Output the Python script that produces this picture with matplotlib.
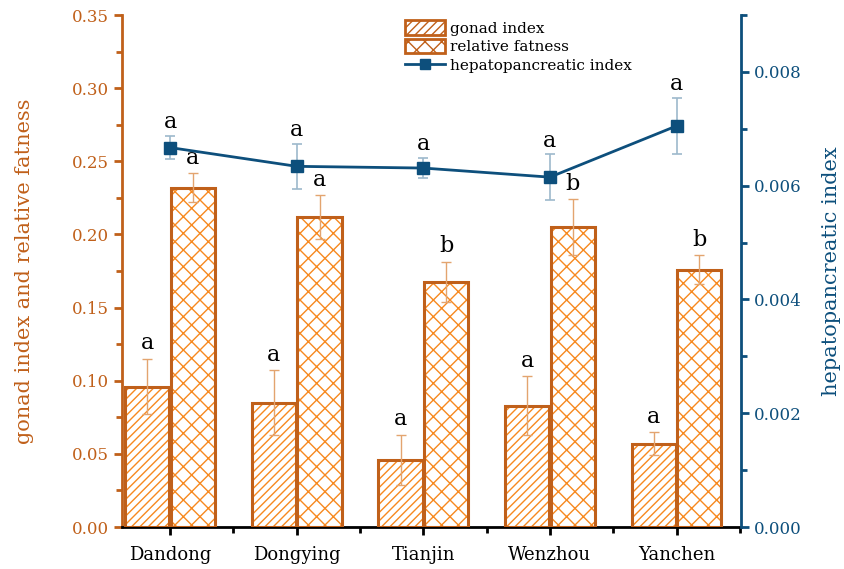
import numpy as np
import matplotlib
matplotlib.use('Agg')
import matplotlib.pyplot as plt
from matplotlib.ticker import MultipleLocator, FormatStrFormatter
from matplotlib.patches import Patch
from matplotlib.lines import Line2D

sites = ['Dandong', 'Dongying', 'Tianjin', 'Wenzhou', 'Yanchen']
gonad = [0.096, 0.085, 0.046, 0.083, 0.057]
gonad_err = [0.019, 0.022, 0.017, 0.020, 0.008]
fatness = [0.232, 0.212, 0.1675, 0.205, 0.176]
fatness_err = [0.010, 0.015, 0.014, 0.019, 0.010]
hepato = [0.00667, 0.00634, 0.00631, 0.00615, 0.00705]
hepato_err = [0.00020, 0.00040, 0.00018, 0.00040, 0.00050]
gonad_sig = ['a', 'a', 'a', 'a', 'a']
fatness_sig = ['a', 'a', 'b', 'b', 'b']
hepato_sig = ['a', 'a', 'a', 'a', 'a']

edge_c = '#C0601A'
hatch_c = '#F7891F'
err_c = '#E3A46F'
blue = '#0D4F7C'
blue_err = '#9DB9CC'

plt.rcParams['hatch.linewidth'] = 1.0
plt.rcParams['font.family'] = 'DejaVu Serif'

fig = plt.figure(figsize=(8.45, 5.69), dpi=100)
ax = fig.add_axes([0.1444, 0.0738, 0.7326, 0.8998])
ax2 = ax.twinx()

x = np.arange(len(sites))
w = 0.35
off = 0.18

for vals, errs, sig, hatch, dx in [(gonad, gonad_err, gonad_sig, '////', -off),
                                    (fatness, fatness_err, fatness_sig, 'xx', off)]:
    xs = x + dx
    # hatch layer, then the outline drawn on top
    ax.bar(xs, vals, w, color='white', edgecolor=hatch_c, hatch=hatch, linewidth=0, zorder=2)
    ax.bar(xs, vals, w, color='none', edgecolor=edge_c, linewidth=2.2, zorder=3)
    ax.errorbar(xs, vals, yerr=errs, fmt='none', ecolor=err_c, elinewidth=1,
                capsize=3.5, capthick=1, zorder=4)
    for xi, v, e, s in zip(xs, vals, errs, sig):
        ax.text(xi, v + e + 0.003, s, ha='center', va='bottom', fontsize=16,
                color='black')

ax2.errorbar(x, hepato, yerr=hepato_err, fmt='none', ecolor=blue_err, elinewidth=1.2,
             capsize=3.5, capthick=1.2, zorder=4)
ax2.plot(x, hepato, color=blue, lw=2, marker='s', ms=8, zorder=5)
for xi, v, e, s in zip(x, hepato, hepato_err, hepato_sig):
    ax2.text(xi, v + e + 0.00005, s, ha='center', va='bottom', fontsize=16,
             color='black')

ax.set_xlim(-0.38, 4.51)
ax.set_ylim(0, 0.35)
ax2.set_ylim(0, 0.009)

ax.set_xticks(x)
ax.set_xticklabels(sites, fontsize=13)
ax.xaxis.set_minor_locator(MultipleLocator(0.5))
ax.yaxis.set_major_locator(MultipleLocator(0.05))
ax.yaxis.set_minor_locator(MultipleLocator(0.025))
ax.yaxis.set_major_formatter(FormatStrFormatter('%.2f'))
ax2.yaxis.set_major_locator(MultipleLocator(0.002))
ax2.yaxis.set_minor_locator(MultipleLocator(0.001))
ax2.yaxis.set_major_formatter(FormatStrFormatter('%.3f'))

ax.spines['top'].set_visible(False)
ax2.spines['top'].set_visible(False)
ax.spines['right'].set_visible(False)
ax2.spines['left'].set_visible(False)
ax2.spines['bottom'].set_visible(False)
ax.spines['left'].set_color(edge_c)
ax.spines['left'].set_linewidth(2)
ax.spines['bottom'].set_linewidth(2)
ax2.spines['right'].set_color(blue)
ax2.spines['right'].set_linewidth(2)

ax.tick_params(axis='y', which='both', colors=edge_c, width=2, labelsize=12)
ax.tick_params(axis='y', which='major', length=6)
ax.tick_params(axis='y', which='minor', length=4)
ax.tick_params(axis='x', which='major', length=6, width=2, pad=8)
ax.tick_params(axis='x', which='minor', length=4, width=2)
ax2.tick_params(axis='y', which='both', colors=blue, width=2, labelsize=12)
ax2.tick_params(axis='y', which='major', length=6)
ax2.tick_params(axis='y', which='minor', length=4)

ax.set_ylabel('gonad index and relative fatness', color=edge_c, fontsize=15)
ax2.set_ylabel('hepatopancreatic index', color=blue, fontsize=15)
ax.yaxis.set_label_coords(-0.142, 0.5)
ax2.yaxis.set_label_coords(1.131, 0.5)

handles = [Patch(facecolor='white', edgecolor=edge_c, hatch='////', linewidth=2),
           Patch(facecolor='white', edgecolor=edge_c, hatch='xx', linewidth=2),
           Line2D([], [], color=blue, lw=2, marker='s', ms=7)]
labels = ['gonad index', 'relative fatness', 'hepatopancreatic index']
ax2.legend(handles, labels, loc='upper left', bbox_to_anchor=(0.457, 0.99), frameon=False,
           fontsize=11, handlelength=2.6, handleheight=1.1, labelspacing=0.2,
           handletextpad=0.35, borderaxespad=0, borderpad=0)

fig.savefig('out.png', dpi=100)
